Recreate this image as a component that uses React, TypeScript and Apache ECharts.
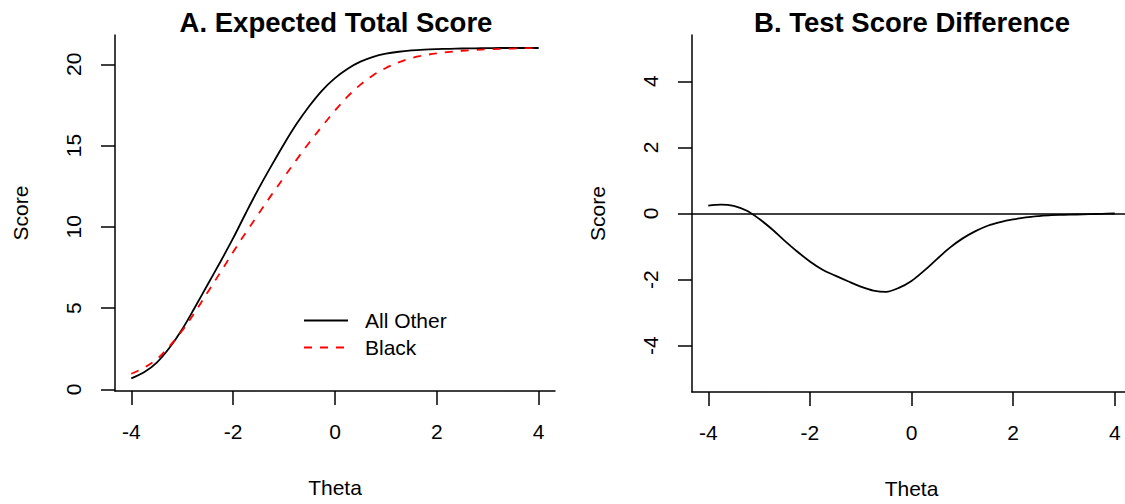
import React, { useEffect, useRef } from "react";
import * as echarts from "echarts";

// Ability grid (theta) shared by all curves
const theta = [
  -4, -3.75, -3.5, -3.25, -3, -2.75, -2.5, -2.25, -2, -1.75, -1.5, -1.25, -1,
  -0.75, -0.5, -0.25, 0, 0.25, 0.5, 0.75, 1, 1.25, 1.5, 1.75, 2, 2.25, 2.5,
  2.75, 3, 3.25, 3.5, 3.75, 4,
];

// Expected total score, reference group
const allOther = [
  0.68, 1.05, 1.65, 2.56, 3.7, 5.05, 6.45, 7.85, 9.3, 10.85, 12.35, 13.75,
  15.1, 16.35, 17.45, 18.4, 19.15, 19.73, 20.16, 20.46, 20.65, 20.77, 20.85,
  20.9, 20.93, 20.95, 20.97, 20.98, 20.99, 21.0, 21.0, 21.0, 21.0,
];

// Expected total score, focal group
const black = [
  0.96, 1.33, 1.85, 2.66, 3.62, 4.75, 5.98, 7.2, 8.45, 9.65, 10.8, 11.95,
  13.05, 14.15, 15.2, 16.2, 17.15, 18.02, 18.75, 19.33, 19.77, 20.12, 20.38,
  20.55, 20.67, 20.76, 20.83, 20.88, 20.92, 20.95, 20.97, 20.99, 21.0,
];

// Test score difference (focal minus reference)
const scoreDiff = [
  0.24, 0.27, 0.23, 0.09, -0.16, -0.47, -0.82, -1.15, -1.45, -1.7, -1.88,
  -2.05, -2.21, -2.33, -2.37, -2.25, -2.04, -1.73, -1.38, -1.04, -0.76, -0.54,
  -0.37, -0.26, -0.18, -0.12, -0.08, -0.05, -0.04, -0.03, -0.02, -0.01, 0,
];

const thetaTicks = [-4, -2, 0, 2, 4];
const scoreTicks = [0, 5, 10, 15, 20];
const diffTicks = [-4, -2, 0, 2, 4];

const FONT = "'Liberation Sans', Arial, Helvetica, sans-serif";

const pairs = (ys: number[]) => theta.map((t, i) => [t, ys[i]]);

function xAxisFor(gridIndex: number) {
  return {
    type: "value",
    gridIndex,
    min: -4.32,
    max: 4.32,
    name: "Theta",
    nameLocation: "middle",
    nameGap: 86,
    nameTextStyle: { fontSize: 21, color: "#000", fontFamily: FONT },
    splitLine: { show: false },
    axisLine: { show: true, onZero: false, lineStyle: { color: "#000", width: 1.5 } },
    axisTick: {
      show: true,
      inside: false,
      length: 14,
      customValues: thetaTicks,
      lineStyle: { color: "#000", width: 1.5 },
    },
    axisLabel: {
      customValues: thetaTicks,
      margin: 30,
      fontSize: 21,
      color: "#000",
      fontFamily: FONT,
    },
  };
}

function yAxisFor(gridIndex: number, min: number, max: number, ticks: number[]) {
  return {
    type: "value",
    gridIndex,
    min,
    max,
    name: "Score",
    nameLocation: "middle",
    nameRotate: 90,
    nameGap: 84,
    nameTextStyle: { fontSize: 21, color: "#000", fontFamily: FONT },
    splitLine: { show: false },
    axisLine: { show: true, onZero: false, lineStyle: { color: "#000", width: 1.5 } },
    axisTick: {
      show: true,
      inside: false,
      length: 14,
      customValues: ticks,
      lineStyle: { color: "#000", width: 1.5 },
    },
    axisLabel: {
      customValues: ticks,
      rotate: 90,
      margin: 31,
      fontSize: 21,
      color: "#000",
      fontFamily: FONT,
    },
  };
}

export default function App() {
  const ref = useRef<HTMLDivElement>(null);

  useEffect(() => {
    if (!ref.current) return;
    const chart = echarts.init(ref.current, null, { renderer: "svg" });
    chart.setOption({
      animation: false,
      backgroundColor: "#fff",
      title: [
        {
          text: "A. Expected Total Score",
          left: 331,
          top: 3,
          textAlign: "center",
          textStyle: { fontSize: 27.5, fontWeight: "bold", color: "#000", fontFamily: FONT },
        },
        {
          text: "B. Test Score Difference",
          left: 907,
          top: 3,
          textAlign: "center",
          textStyle: { fontSize: 27.5, fontWeight: "bold", color: "#000", fontFamily: FONT },
        },
      ],
      legend: {
        data: ["All Other", "Black"],
        orient: "vertical",
        left: 298,
        top: 305,
        itemWidth: 44,
        itemHeight: 14,
        itemGap: 6,
        itemStyle: { opacity: 0 },
        textStyle: { fontSize: 21, color: "#000", fontFamily: FONT, padding: [0, 0, 0, 12] },
      },
      grid: [
        { left: 115, top: 35, width: 440, height: 356, outerBoundsMode: "none" },
        { left: 692, top: 35, width: 439, height: 357, outerBoundsMode: "none" },
      ],
      xAxis: [xAxisFor(0), xAxisFor(1)],
      yAxis: [
        yAxisFor(0, -0.1, 21.8, scoreTicks),
        yAxisFor(1, -5.4, 5.4, diffTicks),
      ],
      series: [
        {
          name: "All Other",
          type: "line",
          xAxisIndex: 0,
          yAxisIndex: 0,
          data: pairs(allOther),
          symbol: "none",
          smooth: 0.35,
          itemStyle: { color: "#000" },
          lineStyle: { color: "#000", width: 1.8 },
        },
        {
          name: "Black",
          type: "line",
          xAxisIndex: 0,
          yAxisIndex: 0,
          data: pairs(black),
          symbol: "none",
          smooth: 0.35,
          itemStyle: { color: "#ff0000" },
          lineStyle: { color: "#ff0000", width: 1.8, type: [8, 8] },
        },
        {
          name: "Difference",
          type: "line",
          xAxisIndex: 1,
          yAxisIndex: 1,
          data: pairs(scoreDiff),
          symbol: "none",
          smooth: 0.35,
          itemStyle: { color: "#000" },
          lineStyle: { color: "#000", width: 1.8 },
          markLine: {
            silent: true,
            symbol: ["none", "none"],
            label: { show: false },
            lineStyle: { color: "#000", width: 1.6, type: "solid" },
            data: [{ yAxis: 0 }],
          },
        },
      ],
    });
    return () => chart.dispose();
  }, []);

  return (
    <div
      ref={ref}
      style={{ position: "absolute", left: 0, top: 0, width: 1125, height: 504 }}
    />
  );
}
